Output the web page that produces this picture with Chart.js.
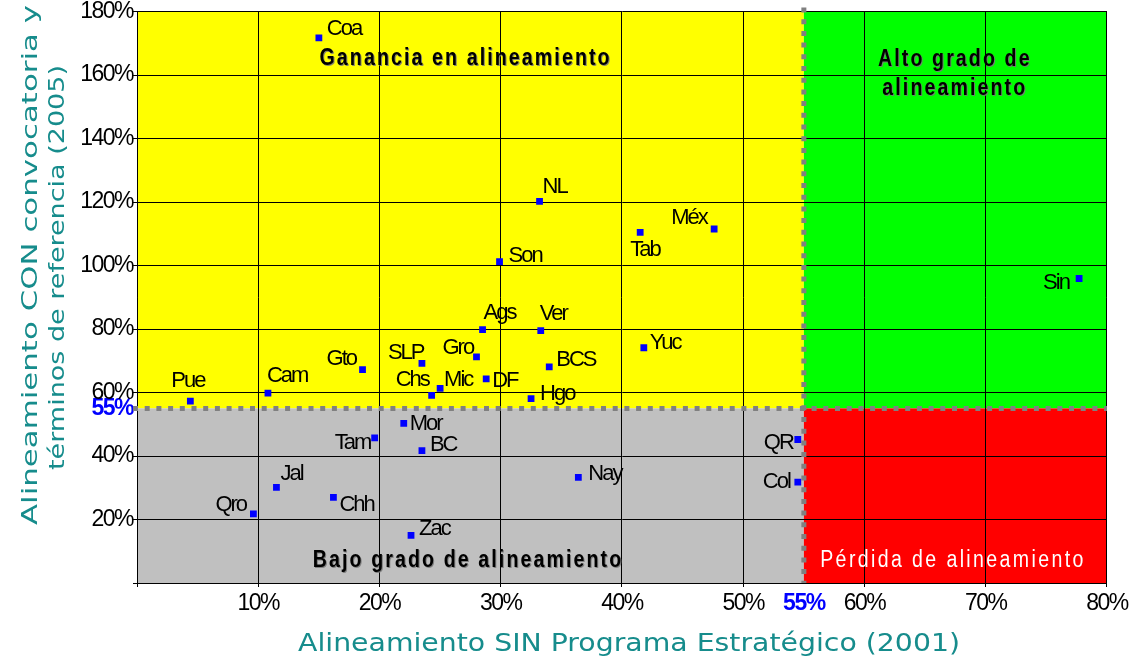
<!DOCTYPE html>
<html lang="es">
<head>
<meta charset="utf-8">
<title>Alineamiento por entidad federativa</title>
<script src="https://cdn.jsdelivr.net/npm/chart.js@4.4.1/dist/chart.umd.min.js"></script>
<style>
  html, body { margin: 0; padding: 0; background: #fff; }
  #wrap { width: 1135px; height: 661px; }
</style>
</head>
<body>
<div id="wrap"><canvas id="grafica" width="1135" height="661"></canvas></div>
<script>
// Entidades y porcentajes de alineamiento
const entidades = ['Coa', 'Pue', 'Cam', 'Gto', 'NL', 'Son', 'Tab', 'Méx', 'Sin', 'Ags', 'Ver', 'Yuc', 'SLP', 'Gro', 'BCS',
                   'Mic', 'Chs', 'DF', 'Hgo', 'Mor', 'Tam', 'BC', 'Nay', 'Zac', 'QR', 'Col', 'Jal', 'Qro', 'Chh'];
const sinPrograma2001 = [15.0, 4.4, 10.8, 18.6, 33.2, 29.9, 41.5, 47.6, 77.7, 28.5, 33.3, 41.8, 23.5, 28.0, 34.0,
                         25.0, 24.3, 28.8, 32.5, 22.0, 19.6, 23.5, 36.4, 22.6, 54.5, 54.5, 11.5, 9.6, 16.2];
const conConvocatoria2005 = [171.7, 57.3, 59.8, 67.2, 120.2, 101.2, 110.4, 111.5, 95.9, 79.8, 79.5, 74.1, 69.2, 71.2, 68.1,
                             61.3, 59.1, 64.3, 58.1, 50.3, 45.7, 41.7, 33.3, 15.0, 45.2, 31.8, 30.1, 21.8, 27.0];
const umbral = 55;
const ticksX = [10, 20, 30, 40, 50, 60, 70, 80];
const ticksY = [20, 40, 60, 80, 100, 120, 140, 160, 180];

// desplazamiento (px) de cada etiqueta respecto a su punto
const desplazamientos = {
  Coa: [8, -3], Pue: [-19, -14], Cam: [-1, -11], Gto: [-36, -5], NL: [3, -8], Son: [9, 0], Tab: [-10, 24],
  'Méx': [-43, -5], Sin: [-36, 10], Ags: [1, -11], Ver: [-1, -11], Yuc: [6, 1], SLP: [-34, -4], Gro: [-34, -3],
  BCS: [7, -1], Mic: [4, -2], Chs: [-36, -9], DF: [6, 8], Hgo: [9, 1], Mor: [6, 7], Tam: [-40, 11], BC: [8, 0],
  Nay: [10, 3], Zac: [8, 0], QR: [-34, 10], Col: [-35, 6], Jal: [4, -7], Qro: [-38, -3], Chh: [6, 14]
};

const teal = '#168c8c';
const fuenteEje = 'Liberation Sans, Arial, sans-serif';

function conUmbral(lista) {
  return [0].concat(lista, [umbral]).sort((a, b) => a - b).map(v => ({ value: v }));
}

function colorTick(c) { return c.tick && c.tick.value === umbral ? '#0000ff' : '#000'; }
function fuenteTick(c) {
  const esUmbral = c.tick && c.tick.value === umbral;
  return { family: fuenteEje, size: 23, weight: esUmbral ? 'bold' : 'normal', lineHeight: 1 };
}
function colorRejilla(c) { return c.tick && c.tick.value === umbral ? 'rgba(0,0,0,0)' : '#000'; }

// texto estirado a un ancho fijo, opcionalmente girado
function textoAjustado(ctx, texto, x, y, ancho, girado) {
  ctx.save();
  ctx.translate(x, y);
  if (girado) ctx.rotate(-Math.PI / 2);
  const w = ctx.measureText(texto).width;
  ctx.scale(ancho / w, 1);
  ctx.fillText(texto, 0, 0);
  ctx.restore();
}

const cuadrantes = {
  id: 'cuadrantes',
  beforeDraw(chart) {
    const { ctx, chartArea: a, scales: { x, y } } = chart;
    const xu = x.getPixelForValue(umbral), yu = y.getPixelForValue(umbral);
    ctx.save();
    ctx.fillStyle = '#ffff00'; ctx.fillRect(a.left, a.top, xu - a.left, yu - a.top);
    ctx.fillStyle = '#00ff00'; ctx.fillRect(xu, a.top, a.right - xu, yu - a.top);
    ctx.fillStyle = '#c0c0c0'; ctx.fillRect(a.left, yu, xu - a.left, a.bottom - yu);
    ctx.fillStyle = '#ff0000'; ctx.fillRect(xu, yu, a.right - xu, a.bottom - yu);
    ctx.restore();
    ctx.letterSpacing = '-1.5px'; // números de los ejes apretados
  },
  beforeDatasetsDraw(chart) {
    const { ctx, chartArea: a, scales: { x, y } } = chart;
    const xu = x.getPixelForValue(umbral), yu = y.getPixelForValue(umbral);

    // líneas punteadas del 55%
    ctx.save();
    ctx.strokeStyle = '#808080';
    ctx.lineWidth = 5;
    ctx.setLineDash([5, 6.7]);
    ctx.beginPath();
    ctx.moveTo(a.left - 4, yu); ctx.lineTo(a.right, yu);
    ctx.moveTo(xu, a.top - 4); ctx.lineTo(xu, a.bottom);
    ctx.stroke();
    ctx.restore();

    // nombres de los cuadrantes (letra angosta y espaciada)
    const textos = [
      { t: 'Ganancia en alineamiento', vx: 27.1, vy: 163.1, color: '#000', peso: 'bold', esp: 2.5 },
      { t: 'Alto grado de', vx: 67.45, vy: 162.7, color: '#000', peso: 'bold', esp: 2.5 },
      { t: 'alineamiento', vx: 67.45, vy: 153.6, color: '#000', peso: 'bold', esp: 2.5 },
      { t: 'Bajo grado de alineamiento', vx: 27.3, vy: 5.1, color: '#000', peso: 'bold', esp: 2.5 },
      { t: 'Pérdida de alineamiento', vx: 67.3, vy: 5.1, color: '#fff', peso: 'normal', esp: 2.8 }
    ];
    textos.forEach(o => {
      ctx.save();
      ctx.textAlign = 'center';
      ctx.textBaseline = 'alphabetic';
      ctx.font = o.peso + ' 23px ' + fuenteEje;
      ctx.letterSpacing = o.esp + 'px';
      ctx.fillStyle = o.color;
      if (o.color === '#000') {
        ctx.shadowColor = 'rgba(120,120,120,0.9)';
        ctx.shadowOffsetX = 1; ctx.shadowOffsetY = 1; ctx.shadowBlur = 0;
      }
      ctx.translate(x.getPixelForValue(o.vx), y.getPixelForValue(o.vy));
      ctx.scale(0.85, 1);
      ctx.fillText(o.t, 0, 0);
      ctx.restore();
    });
  },
  afterDatasetsDraw(chart) {
    const { ctx } = chart;
    const meta = chart.getDatasetMeta(0);
    ctx.save();
    ctx.font = '22px ' + fuenteEje;
    ctx.letterSpacing = '-2px';
    ctx.fillStyle = '#000';
    ctx.textAlign = 'left';
    ctx.textBaseline = 'alphabetic';
    meta.data.forEach((p, i) => {
      const d = desplazamientos[entidades[i]] || [6, 0];
      ctx.fillText(entidades[i], p.x + d[0], p.y + d[1]);
    });
    ctx.restore();
  },
  afterDraw(chart) {
    const { ctx } = chart;
    ctx.letterSpacing = '0px';
    ctx.save();
    ctx.fillStyle = teal;
    ctx.textAlign = 'center';
    ctx.textBaseline = 'alphabetic';
    ctx.font = '24px "DejaVu Sans", Verdana, sans-serif';
    textoAjustado(ctx, 'Alineamiento SIN Programa Estratégico (2001)', 629, 651, 662, false);
    ctx.font = '22px "DejaVu Sans", Verdana, sans-serif';
    textoAjustado(ctx, 'Alineamiento CON convocatoria y', 36.5, 265, 520, true);
    textoAjustado(ctx, 'términos de referencia (2005)', 64, 267.5, 405, true);
    ctx.restore();
  }
};

const puntos = entidades.map((e, i) => ({ x: sinPrograma2001[i], y: conConvocatoria2005[i] }));

new Chart(document.getElementById('grafica'), {
  type: 'scatter',
  data: {
    datasets: [{
      label: 'Entidades',
      data: puntos,
      pointStyle: 'rect',
      pointRadius: 4.8,
      pointBorderWidth: 0,
      backgroundColor: '#0000ff',
      borderColor: '#0000ff'
    }]
  },
  options: {
    responsive: false,
    animation: false,
    devicePixelRatio: 1,
    layout: { padding: { top: 10, right: 28, left: 0, bottom: 0 } },
    plugins: { legend: { display: false }, tooltip: { enabled: false } },
    scales: {
      x: {
        type: 'linear',
        min: 0, max: 80,
        afterBuildTicks: s => { s.ticks = conUmbral(ticksX); },
        afterFit: s => { s.height = 78; },
        grid: { color: colorRejilla, lineWidth: 1, tickLength: 4 },
        border: { color: '#000', width: 1 },
        ticks: {
          autoSkip: false, maxRotation: 0, padding: 5,
          color: colorTick, font: fuenteTick,
          callback: v => v === 0 ? '' : v + '%'
        }
      },
      y: {
        type: 'linear',
        min: 0, max: 180,
        afterBuildTicks: s => { s.ticks = conUmbral(ticksY); },
        afterFit: s => { s.width = 137; },
        grid: { color: colorRejilla, lineWidth: 1, tickLength: 4 },
        border: { color: '#000', width: 1 },
        ticks: {
          autoSkip: false, padding: 0,
          color: colorTick, font: fuenteTick,
          callback: v => v === 0 ? '' : v + '%'
        }
      }
    }
  },
  plugins: [cuadrantes]
});
</script>
</body>
</html>
